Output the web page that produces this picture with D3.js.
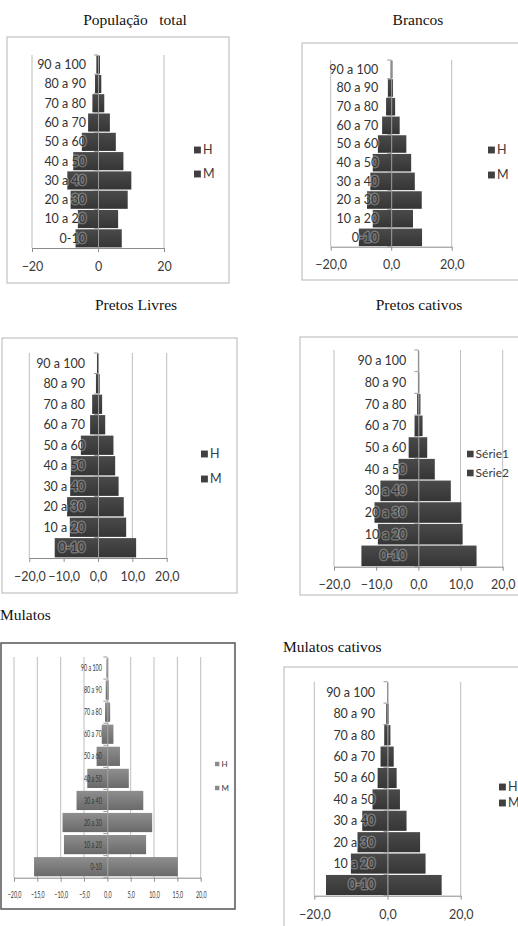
<!DOCTYPE html>
<html><head><meta charset="utf-8">
<script src="https://cdn.jsdelivr.net/npm/d3@7"></script>
<style>body{margin:0;background:#fff}svg{display:block}</style>
</head><body>
<script>
// ---------- DATA ----------
const categories = ["0-10","10 a 20","20 a 30","30 a 40","40 a 50","50 a 60","60 a 70","70 a 80","80 a 90","90 a 100"];

const totalH = [-6.8,-6.1,-8.3,-9.3,-7.5,-4.9,-3.0,-1.7,-0.9,-0.5];
const totalM = [7.2,6.1,9.0,10.1,7.7,5.4,3.6,1.9,1.0,0.6];

const brancosH = [-10.7,-6.1,-8.0,-6.9,-6.1,-4.4,-3.0,-1.7,-1.1,-0.2];
const brancosM = [10.2,7.2,10.1,7.8,6.6,5.0,2.8,1.3,0.6,0.4];

const pretosLivresH = [-12.6,-8.2,-9.0,-8.1,-7.9,-5.0,-2.3,-1.7,-0.6,-0.3];
const pretosLivresM = [11.1,8.2,7.5,6.0,5.0,4.5,2.1,1.2,0.5,0.3];

const pretosCativosS1 = [-13.5,-9.6,-10.4,-9.0,-4.7,-2.3,-0.9,-0.3,-0.1,-0.1];
const pretosCativosS2 = [13.8,10.5,10.2,7.7,3.9,2.1,1.0,0.5,0.2,0.1];

const mulatosH = [-15.7,-9.3,-9.6,-6.6,-4.3,-2.3,-1.2,-0.5,-0.35,-0.2];
const mulatosM = [15.1,8.3,9.6,7.7,4.6,2.7,1.3,0.6,0.3,0.15];

const mulatosCativosH = [-16.8,-10.0,-8.2,-6.9,-4.1,-2.7,-1.9,-0.9,-0.35,-0.1];
const mulatosCativosM = [14.8,10.4,8.9,5.2,3.4,2.5,1.7,0.8,0.3,0.1];

const ticks3 = [-20,0,20];
const ticks5 = [-20,-10,0,10,20];
const ticks9 = [-20,-15,-10,-5,0,5,10,15,20];
const legendHM = ["H","M"];
const legendSerie = ["Série1","Série2"];

// ---------- LAYOUT ----------
const W = 518, H = 926;
const svg = d3.select("body").append("svg").attr("width", W).attr("height", H);
const defs = svg.append("defs");
function grad(id, c1, c2){
  const g = defs.append("linearGradient").attr("id", id).attr("x1",0).attr("y1",0).attr("x2",0).attr("y2",1);
  g.append("stop").attr("offset","0%").attr("stop-color",c1);
  g.append("stop").attr("offset","100%").attr("stop-color",c2);
}
grad("dark", "#4a4a4a", "#353535");
grad("light", "#8e8e8e", "#6a6a6a");

const fmtInt = d3.format("d");
const fmtComma = d => d3.format(".1f")(d).replace(".", ",");

const panels = [
  {title:"População   total", tx:135, ty:25, tAnchor:"middle",
   box:[7,37,229,283], boxStroke:"#b5b5b5", boxW:1,
   xr:[32,164], top:55, bottom:248, ticks:ticks3, fmt:fmtInt, grid:[-20,20],
   labY:267, series:[totalH,totalM], legend:legendHM, legX:194, legY:[150,174],
   fill:"url(#dark)", legFill:"#404040", pad:0.06, gap:12, fs:12.5, sq:1, legFs:12.5, halo:true},
  {title:"Brancos", tx:418, ty:25, tAnchor:"middle",
   box:[302,43,522,280], boxStroke:"#b5b5b5", boxW:1,
   xr:[330.7,451.7], top:60, bottom:246.7, ticks:ticks3, fmt:fmtComma, grid:[-20,20],
   labY:265, series:[brancosH,brancosM], legend:legendHM, legX:488, legY:[150,175],
   fill:"url(#dark)", legFill:"#404040", pad:0.06, gap:13, fs:12.5, sq:1, legFs:12.5, halo:true},
  {title:"Pretos Livres", tx:136, ty:310, tAnchor:"middle",
   box:[2,338,237,593], boxStroke:"#b5b5b5", boxW:1,
   xr:[29.3,166.7], top:353, bottom:558, ticks:ticks5, fmt:fmtComma, grid:[-20,10,20],
   labY:577, series:[pretosLivresH,pretosLivresM], legend:legendHM, legX:201, legY:[454,479],
   fill:"url(#dark)", legFill:"#404040", pad:0.06, gap:13, fs:12.5, sq:1, legFs:12.5, halo:true},
  {title:"Pretos cativos", tx:419, ty:310, tAnchor:"middle",
   box:[300,337,522,595], boxStroke:"#b5b5b5", boxW:1,
   xr:[334,502.7], top:350, bottom:566.7, ticks:ticks5, fmt:fmtComma, grid:[-20,10,20],
   labY:585, series:[pretosCativosS1,pretosCativosS2], legend:legendSerie, legX:467, legY:[454,473],
   fill:"url(#dark)", legFill:"#404040", pad:0.05, gap:12, fs:12.5, sq:1, legFs:12, halo:true},
  {title:"Mulatos", tx:0, ty:620, tAnchor:"start",
   box:[1,643,235,909], boxStroke:"#555555", boxW:1.5,
   xr:[14,200.7], top:657, bottom:877.7, ticks:ticks9, fmt:fmtComma, grid:ticks9.filter(d=>d!==0),
   labY:895, series:[mulatosH,mulatosM], legend:legendHM, legX:215, legY:[764,788],
   fill:"url(#light)", legFill:"#8a8a8a", pad:0.13, gap:5.5, fs:9, sq:0.6, legFs:8, halo:false},
  {title:"Mulatos cativos", tx:283, ty:652, tAnchor:"start",
   box:[284,667,522,940], boxStroke:"#b5b5b5", boxW:1,
   xr:[314.3,460.7], top:681.7, bottom:895.7, ticks:ticks3, fmt:fmtComma, grid:[-20,20],
   labY:915, series:[mulatosCativosH,mulatosCativosM], legend:legendHM, legX:499, legY:[787,803],
   fill:"url(#dark)", legFill:"#404040", pad:0.06, gap:12.5, fs:12.5, sq:1, legFs:12.5, halo:true}
];

panels.forEach(drawPanel);

function drawPanel(p){
  const g = svg.append("g");
  // box
  g.append("rect").attr("x",p.box[0]).attr("y",p.box[1])
    .attr("width",p.box[2]-p.box[0]).attr("height",p.box[3]-p.box[1])
    .attr("fill","#fff").attr("stroke",p.boxStroke).attr("stroke-width",p.boxW);
  // title
  g.append("text").attr("x",p.tx).attr("y",p.ty).attr("text-anchor",p.tAnchor)
    .attr("font-family","'Liberation Serif','Times New Roman',serif").attr("font-size",15.5)
    .attr("fill","#111").style("white-space","pre").text(p.title);

  const x = d3.scaleLinear().domain([-20,20]).range(p.xr);
  const y = d3.scaleBand().domain(categories.slice().reverse())
    .range([p.top,p.bottom]).paddingInner(p.pad).paddingOuter(p.pad/2);

  // gridlines
  g.append("g").selectAll("line").data(p.grid).join("line")
    .attr("x1",d=>x(d)).attr("x2",d=>x(d)).attr("y1",p.top).attr("y2",p.bottom)
    .attr("stroke","#bdbdbd").attr("stroke-width",1);

  // bars
  p.series.forEach(ser => {
    g.append("g").selectAll("rect").data(categories).join("rect")
      .attr("x",(c,i)=>x(Math.min(0,ser[i])))
      .attr("width",(c,i)=>Math.abs(x(ser[i])-x(0)))
      .attr("y",c=>y(c)).attr("height",y.bandwidth())
      .attr("fill",p.fill);
  });

  // x axis
  const xa = g.append("g").attr("transform",`translate(0,${p.bottom})`)
    .call(d3.axisBottom(x).tickValues(p.ticks).tickFormat(p.fmt).tickSize(4).tickSizeOuter(0));
  xa.select(".domain").attr("stroke","#8c8c8c");
  xa.selectAll(".tick line").attr("stroke","#8c8c8c");
  xa.selectAll(".tick text")
    .attr("y",p.labY-p.bottom).attr("dy","0.35em")
    .attr("font-family","Lato,'Open Sans',sans-serif").attr("font-size",p.fs)
    .attr("fill","#3a3a3a")
    .attr("transform",`scale(${p.sq},1)`);

  // y axis at zero (drawn over bars)
  const ya = g.append("g").attr("transform",`translate(${x(0)},0)`)
    .call(d3.axisLeft(y).tickSize(0).tickSizeOuter(0).tickPadding(0));
  ya.select(".domain").attr("stroke","#9a9a9a");
  const lbl = ya.selectAll(".tick text")
    .attr("x",-p.gap/p.sq).attr("dy","0.35em")
    .attr("font-family","Lato,'Open Sans',sans-serif").attr("font-size",p.fs)
    .attr("fill","#333")
    .attr("transform",`scale(${p.sq},1)`);
  if (p.halo) {
    lbl.attr("stroke","rgba(255,255,255,0.28)").attr("stroke-width",3)
      .attr("stroke-linejoin","round").style("paint-order","stroke");
  }
  // tick marks at band boundaries
  const bounds = d3.range(categories.length+1).map(i => p.top + i*(p.bottom-p.top)/categories.length);
  ya.append("g").selectAll("line").data(bounds).join("line")
    .attr("x1",-4).attr("x2",0).attr("y1",d=>d).attr("y2",d=>d)
    .attr("stroke","#9a9a9a");

  // legend
  const lg = g.append("g");
  p.legend.forEach((name,i)=>{
    const s = p.legFs*0.55;
    lg.append("rect").attr("x",p.legX).attr("y",p.legY[i]-s/2)
      .attr("width",s).attr("height",s).attr("fill",p.legFill);
    lg.append("text").attr("x",p.legX+s+2).attr("y",p.legY[i]).attr("dy","0.35em")
      .attr("font-family","Lato,'Open Sans',sans-serif").attr("font-size",p.legFs)
      .attr("fill","#3a3a3a").text(name);
  });
}
</script>
</body></html>
